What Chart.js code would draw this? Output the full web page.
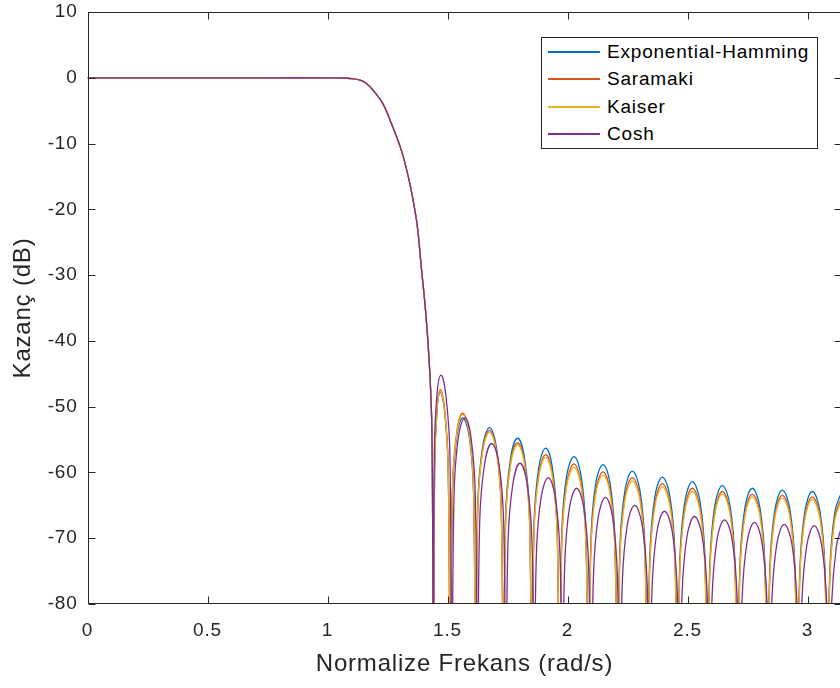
<!DOCTYPE html>
<html>
<head>
<meta charset="utf-8">
<title>Kazanç</title>
<script src="https://cdn.jsdelivr.net/npm/chart.js@4.4.1/dist/chart.umd.min.js"></script>
<style>
    html, body { margin: 0; padding: 0; background: #fff; overflow: hidden; }
    #wrap { position: relative; width: 842px; height: 688px; }
    #legend {
        position: absolute; left: 541px; top: 37px; width: 277px; height: 112px;
        box-sizing: border-box; border: 1px solid #262626; background: #fff;
        font-family: "Liberation Sans", Arial, sans-serif; font-size: 19px;
        letter-spacing: 0.8px; color: #000;
    }
    #legend .row { position: absolute; left: 0; height: 28px; white-space: nowrap; }
    #legend .swatch { position: absolute; left: 6px; top: 13px; width: 52px; height: 1.5px; }
    #legend .label { position: absolute; left: 65px; top: 0; line-height: 28px; }
</style>
</head>
<body>
<div id="wrap">
    <canvas id="responseChart"></canvas>
    <div id="legend"></div>
</div>
<script>
// Axis ticks
const xTicks = [0, 0.5, 1, 1.5, 2, 2.5, 3];
const yTicks = [10, 0, -10, -20, -30, -40, -50, -60, -70, -80];

const seriesNames = ['Exponential-Hamming', 'Saramaki', 'Kaiser', 'Cosh'];
const seriesColors = ['#0072BD', '#D95319', '#EDB120', '#7E2F8E'];

// Passband + transition (same for all windows)
const passFreq = [0, 0.25, 0.5, 0.75, 1.0, 1.05, 1.1, 1.135, 1.16, 1.19, 1.23, 1.27, 1.31, 1.34, 1.36, 1.375, 1.39, 1.41, 1.425, 1.434, 1.438];
const passGain = [0, 0, 0, 0, 0, -0.02, -0.12, -0.35, -0.8, -1.9, -3.9, -7.3, -11.3, -15.6, -19.3, -22.8, -28.5, -36.0, -44.0, -52.0, -67.0];

// Stopband frequencies (nulls, shoulders, peaks)
const lobeFreq = [
    1.442, 1.446, 1.456, 1.470, 1.488, 1.503,
    1.512, 1.520, 1.538, 1.563, 1.591, 1.609,
    1.617, 1.626, 1.646, 1.675, 1.704, 1.724,
    1.733, 1.742, 1.763, 1.792, 1.821, 1.842,
    1.851, 1.860, 1.880, 1.909, 1.937, 1.957,
    1.966, 1.976, 1.996, 2.027, 2.057, 2.077,
    2.087, 2.097, 2.117, 2.148, 2.178, 2.198,
    2.208, 2.218, 2.239, 2.270, 2.302, 2.323,
    2.333, 2.343, 2.364, 2.395, 2.427, 2.448,
    2.458, 2.468, 2.489, 2.520, 2.552, 2.573,
    2.583, 2.593, 2.614, 2.645, 2.677, 2.698,
    2.708, 2.718, 2.739, 2.770, 2.802, 2.823,
    2.833, 2.843, 2.864, 2.895, 2.927, 2.948,
    2.958, 2.968, 2.989, 3.020, 3.052, 3.073,
    3.083, 3.093, 3.114, 3.1416
];
const coshFreq = [
    1.441, 1.445, 1.456, 1.473, 1.493, 1.510,
    1.518, 1.527, 1.545, 1.572, 1.598, 1.616,
    1.625, 1.634, 1.655, 1.684, 1.714, 1.734,
    1.743, 1.752, 1.773, 1.802, 1.831, 1.852,
    1.861, 1.870, 1.890, 1.920, 1.949, 1.969,
    1.978, 1.988, 2.008, 2.038, 2.068, 2.088,
    2.098, 2.108, 2.128, 2.158, 2.188, 2.208,
    2.218, 2.228, 2.249, 2.280, 2.311, 2.332,
    2.342, 2.352, 2.373, 2.404, 2.436, 2.457,
    2.467, 2.477, 2.498, 2.529, 2.561, 2.582,
    2.592, 2.602, 2.623, 2.654, 2.686, 2.707,
    2.717, 2.727, 2.748, 2.779, 2.810, 2.831,
    2.841, 2.851, 2.872, 2.903, 2.935, 2.956,
    2.966, 2.976, 2.997, 3.028, 3.059, 3.080,
    3.090, 3.100, 3.120, 3.1416
];

// Stopband gains (dB)
const expHammingGain = [
    -100, -59.8, -50.8, -47.8, -50.8, -59.8,
    -100, -63.7, -54.7, -51.7, -54.7, -63.7,
    -100, -65.2, -56.2, -53.2, -56.2, -65.2,
    -100, -66.8, -57.8, -54.8, -57.8, -66.8,
    -100, -68.3, -59.3, -56.3, -59.3, -68.3,
    -100, -69.6, -60.6, -57.6, -60.6, -69.6,
    -100, -70.8, -61.8, -58.8, -61.8, -70.8,
    -100, -71.8, -62.8, -59.8, -62.8, -71.8,
    -100, -72.7, -63.7, -60.7, -63.7, -72.7,
    -100, -73.4, -64.4, -61.4, -64.4, -73.4,
    -100, -74.0, -65.0, -62.0, -65.0, -74.0,
    -100, -74.4, -65.4, -62.4, -65.4, -74.4,
    -100, -74.7, -65.7, -62.7, -65.7, -74.7,
    -100, -74.9, -65.9, -62.9, -65.9, -74.9,
    -100, -75.0, -66.0, -63.0
];
const saramakiGain = [
    -100, -59.4, -50.4, -47.4, -50.4, -59.4,
    -100, -63.0, -54.0, -51.0, -54.0, -63.0,
    -100, -65.6, -56.6, -53.6, -56.6, -65.6,
    -100, -67.5, -58.5, -55.5, -58.5, -67.5,
    -100, -69.3, -60.3, -57.3, -60.3, -69.3,
    -100, -70.7, -61.7, -58.7, -61.7, -70.7,
    -100, -71.9, -62.9, -59.9, -62.9, -71.9,
    -100, -72.8, -63.8, -60.8, -63.8, -72.8,
    -100, -73.7, -64.7, -61.7, -64.7, -73.7,
    -100, -74.4, -65.4, -62.4, -65.4, -74.4,
    -100, -74.9, -65.9, -62.9, -65.9, -74.9,
    -100, -75.3, -66.3, -63.3, -66.3, -75.3,
    -100, -75.5, -66.5, -63.5, -66.5, -75.5,
    -100, -75.7, -66.7, -63.7, -66.7, -75.7,
    -100, -75.8, -66.8, -63.8
];
const kaiserGain = [
    -100, -59.6, -50.6, -47.6, -50.6, -59.6,
    -100, -63.2, -54.2, -51.2, -54.2, -63.2,
    -100, -65.9, -56.9, -53.9, -56.9, -65.9,
    -100, -67.8, -58.8, -55.8, -58.8, -67.8,
    -100, -69.7, -60.7, -57.7, -60.7, -69.7,
    -100, -71.2, -62.2, -59.2, -62.2, -71.2,
    -100, -72.4, -63.4, -60.4, -63.4, -72.4,
    -100, -73.3, -64.3, -61.3, -64.3, -73.3,
    -100, -74.2, -65.2, -62.2, -65.2, -74.2,
    -100, -74.9, -65.9, -62.9, -65.9, -74.9,
    -100, -75.3, -66.3, -63.3, -66.3, -75.3,
    -100, -75.7, -66.7, -63.7, -66.7, -75.7,
    -100, -75.9, -66.9, -63.9, -66.9, -75.9,
    -100, -76.1, -67.1, -64.1, -67.1, -76.1,
    -100, -76.2, -67.2, -64.2
];
const coshGain = [
    -100, -57.2, -48.2, -45.2, -48.2, -57.2,
    -100, -63.7, -54.7, -51.7, -54.7, -63.7,
    -100, -67.6, -58.6, -55.6, -58.6, -67.6,
    -100, -70.6, -61.6, -58.6, -61.6, -70.6,
    -100, -72.8, -63.8, -60.8, -63.8, -72.8,
    -100, -74.4, -65.4, -62.4, -65.4, -74.4,
    -100, -75.8, -66.8, -63.8, -66.8, -75.8,
    -100, -77.0, -68.0, -65.0, -68.0, -77.0,
    -100, -77.9, -68.9, -65.9, -68.9, -77.9,
    -100, -78.7, -69.7, -66.7, -69.7, -78.7,
    -100, -79.2, -70.2, -67.2, -70.2, -79.2,
    -100, -79.6, -70.6, -67.6, -70.6, -79.6,
    -100, -79.9, -70.9, -67.9, -70.9, -79.9,
    -100, -80.1, -71.1, -68.1, -71.1, -80.1,
    -100, -80.3, -71.3, -68.3
];

const FONT = '"Liberation Sans", Arial, sans-serif';
const AXIS_COLOR = '#262626';

function toPoints(freq, gain) {
    return freq.map((f, i) => ({ x: f, y: gain[i] }));
}

const seriesFreq = [lobeFreq, lobeFreq, lobeFreq, coshFreq];
const seriesGain = [expHammingGain, saramakiGain, kaiserGain, coshGain];

// MATLAB style box with inward ticks on all four sides
const matlabBox = {
    id: 'matlabBox',
    beforeDraw(chart) {
        chart.ctx.letterSpacing = '0.8px';
    },
    afterDatasetsDraw(chart) {
        const { ctx, chartArea: a, scales: { x, y } } = chart;
        const len = 7;
        const L = Math.round(a.left) + 0.5, R = Math.round(a.right) - 0.5;
        const T = Math.round(a.top) + 0.5, B = Math.round(a.bottom) - 0.5;
        ctx.save();
        ctx.strokeStyle = AXIS_COLOR;
        ctx.lineWidth = 1;
        ctx.beginPath();
        ctx.rect(L, T, R - L, B - T);
        x.ticks.forEach(t => {
            const px = Math.round(x.getPixelForValue(t.value)) + 0.5;
            ctx.moveTo(px, B); ctx.lineTo(px, B - len);
            ctx.moveTo(px, T); ctx.lineTo(px, T + len);
        });
        y.ticks.forEach(t => {
            const py = Math.round(y.getPixelForValue(t.value)) + 0.5;
            ctx.moveTo(L, py); ctx.lineTo(L + len, py);
            ctx.moveTo(R, py); ctx.lineTo(R - len, py);
        });
        ctx.stroke();
        ctx.restore();
    }
};

const datasets = seriesNames.map((name, i) => ({
    label: name,
    data: toPoints(passFreq.concat(seriesFreq[i]), passGain.concat(seriesGain[i])),
    borderColor: seriesColors[i],
    borderWidth: 1.3,
    pointRadius: 0,
    fill: false,
    tension: 0.4,
    order: seriesNames.length - i
}));

new Chart(document.getElementById('responseChart'), {
    type: 'line',
    data: { datasets },
    options: {
        responsive: true,
        maintainAspectRatio: false,
        animation: false,
        events: [],
        layout: { padding: { top: 12, right: 0.5, left: 0, bottom: 0 } },
        plugins: {
            legend: { display: false },
            tooltip: { enabled: false }
        },
        scales: {
            x: {
                type: 'linear',
                min: 0,
                max: Math.PI,
                afterBuildTicks: (scale) => { scale.ticks = xTicks.map(v => ({ value: v })); },
                afterFit: (scale) => {
                    scale.height = 84;
                    scale.paddingLeft = 0;
                    scale.paddingRight = 0;
                },
                grid: { display: false, drawTicks: false },
                border: { display: false },
                ticks: {
                    color: AXIS_COLOR,
                    padding: 15.6,
                    maxRotation: 0,
                    font: { family: FONT, size: 19, lineHeight: 1.2 },
                    callback: (v) => String(v)
                },
                title: {
                    display: true,
                    text: 'Normalize Frekans (rad/s)',
                    color: AXIS_COLOR,
                    font: { family: FONT, size: 24, lineHeight: 1.2 },
                    padding: { top: 0, bottom: 9.6 }
                }
            },
            y: {
                min: -80,
                max: 10,
                afterBuildTicks: (scale) => { scale.ticks = yTicks.map(v => ({ value: v })); },
                afterFit: (scale) => {
                    scale.width = 87.5;
                    scale.paddingTop = 0;
                    scale.paddingBottom = 0;
                },
                grid: { display: false, drawTicks: false },
                border: { display: false },
                ticks: {
                    color: AXIS_COLOR,
                    padding: 10,
                    font: { family: FONT, size: 19, lineHeight: 1.2 },
                    callback: (v) => String(v)
                },
                title: {
                    display: true,
                    text: 'Kazanç (dB)',
                    color: AXIS_COLOR,
                    font: { family: FONT, size: 24, lineHeight: 1.2 },
                    padding: { top: 8.6, bottom: 0 }
                }
            }
        }
    },
    plugins: [matlabBox]
});

// Legend box (MATLAB style, inside the axes)
const legendEl = document.getElementById('legend');
const rowTops = [0, 27, 55, 82];
seriesNames.forEach((name, i) => {
    const row = document.createElement('div');
    row.className = 'row';
    row.style.top = rowTops[i] + 'px';
    const sw = document.createElement('div');
    sw.className = 'swatch';
    sw.style.background = seriesColors[i];
    const label = document.createElement('div');
    label.className = 'label';
    label.textContent = name;
    row.appendChild(sw);
    row.appendChild(label);
    legendEl.appendChild(row);
});
</script>
</body>
</html>
